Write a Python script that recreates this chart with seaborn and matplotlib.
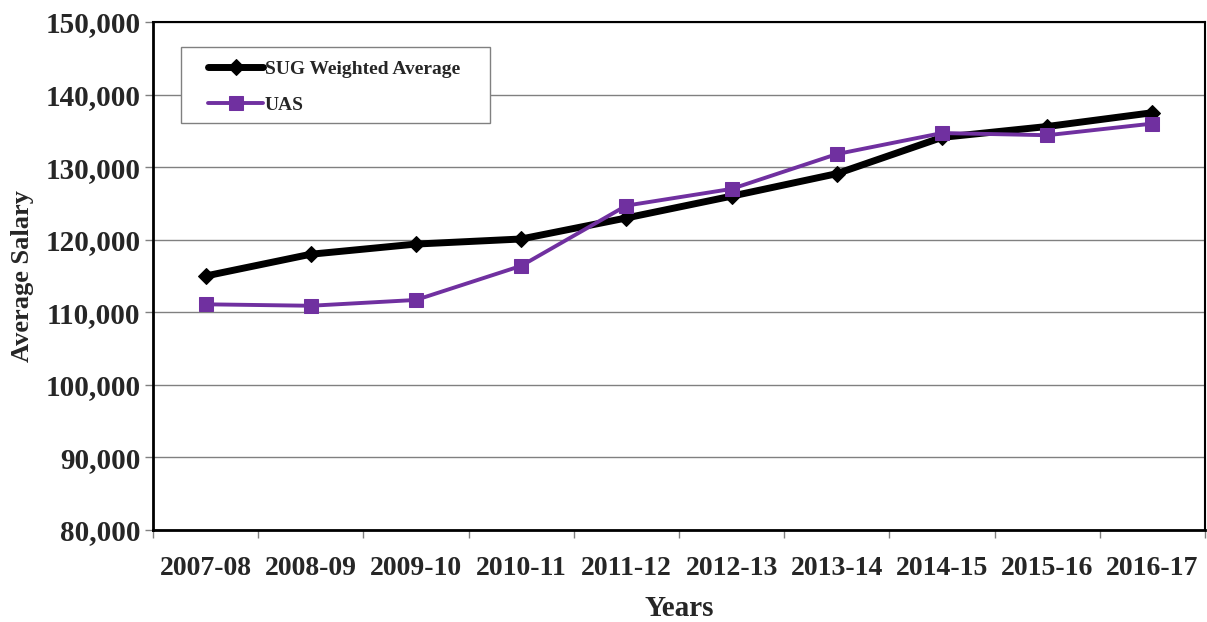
import pandas as pd
import numpy as np
import matplotlib
matplotlib.use("Agg")
import matplotlib.pyplot as plt
import seaborn as sns
from matplotlib.ticker import FuncFormatter, FixedLocator
from matplotlib.patches import Rectangle

years = ['2007-08', '2008-09', '2009-10', '2010-11', '2011-12',
         '2012-13', '2013-14', '2014-15', '2015-16', '2016-17']
sug = [115000, 118000, 119400, 120100, 123000, 126000, 129100, 134100, 135600, 137500]
uas = [111100, 110900, 111700, 116400, 124700, 127000, 131800, 134700, 134400, 136000]

df = pd.DataFrame({'Years': years, 'SUG Weighted Average': sug, 'UAS': uas})

sns.set_style("white")
plt.rcParams['font.family'] = ['Liberation Serif', 'DejaVu Serif']
plt.rcParams['font.weight'] = 'bold'

W, H = 1207, 622
fig = plt.figure(figsize=(W / 100, H / 100), dpi=100)
ax = fig.add_axes([153 / W, 1 - 530 / H, 1052 / W, 508 / H])

sns.lineplot(data=df, x='Years', y='SUG Weighted Average', ax=ax, color='black',
             linewidth=5, marker='D', markersize=8, markeredgecolor='black',
             label='SUG Weighted Average', sort=False)
sns.lineplot(data=df, x='Years', y='UAS', ax=ax, color='#7030A0',
             linewidth=2.8, marker='s', markersize=10.5, markeredgecolor='#7030A0',
             label='UAS', sort=False)

ax.set_xlim(-0.5, 9.5)
ax.set_ylim(80000, 150000)
ax.set_yticks(np.arange(80000, 150001, 10000))
ax.yaxis.set_major_formatter(FuncFormatter(lambda v, p: f"{int(v):,}"))
ax.yaxis.grid(True, color='#808080', linewidth=1)
ax.set_axisbelow(True)

ax.xaxis.set_minor_locator(FixedLocator(np.arange(-0.5, 10, 1)))
ax.tick_params(axis='x', which='major', length=0, pad=19, labelsize=20)
ax.tick_params(axis='x', which='minor', length=6, color='#808080', width=1, direction='out', bottom=True)
ax.tick_params(axis='y', which='major', length=6, color='#808080', width=1, direction='out', left=True, pad=3, labelsize=21)
for lab in ax.get_xticklabels() + ax.get_yticklabels():
    lab.set_fontweight('bold')

for s in ax.spines.values():
    s.set_color('black')
    s.set_linewidth(1.5)
ax.spines['left'].set_linewidth(2)
ax.spines['bottom'].set_linewidth(2)

ax.set_xlabel('Years', fontsize=21, fontweight='bold', labelpad=10)
ax.set_ylabel('Average Salary', fontsize=19, fontweight='bold', labelpad=8)

# legend box drawn separately so the padding can match the original
box = Rectangle((181 / W, 1 - 123 / H), 309 / W, 76 / H, transform=fig.transFigure,
                facecolor='white', edgecolor='#808080', linewidth=1, zorder=5)
ax.add_patch(box)
box.set_clip_on(False)

leg = ax.legend(loc='upper left', bbox_to_anchor=(208 / W, 1 - 60 / H),
                bbox_transform=fig.transFigure, frameon=False,
                fontsize=14, handlelength=2.83, borderpad=0, labelspacing=0.95,
                handletextpad=0.1, borderaxespad=0)
leg.set_zorder(6)
for t in leg.get_texts():
    t.set_fontweight('bold')

fig.savefig('out.png', dpi=100)
